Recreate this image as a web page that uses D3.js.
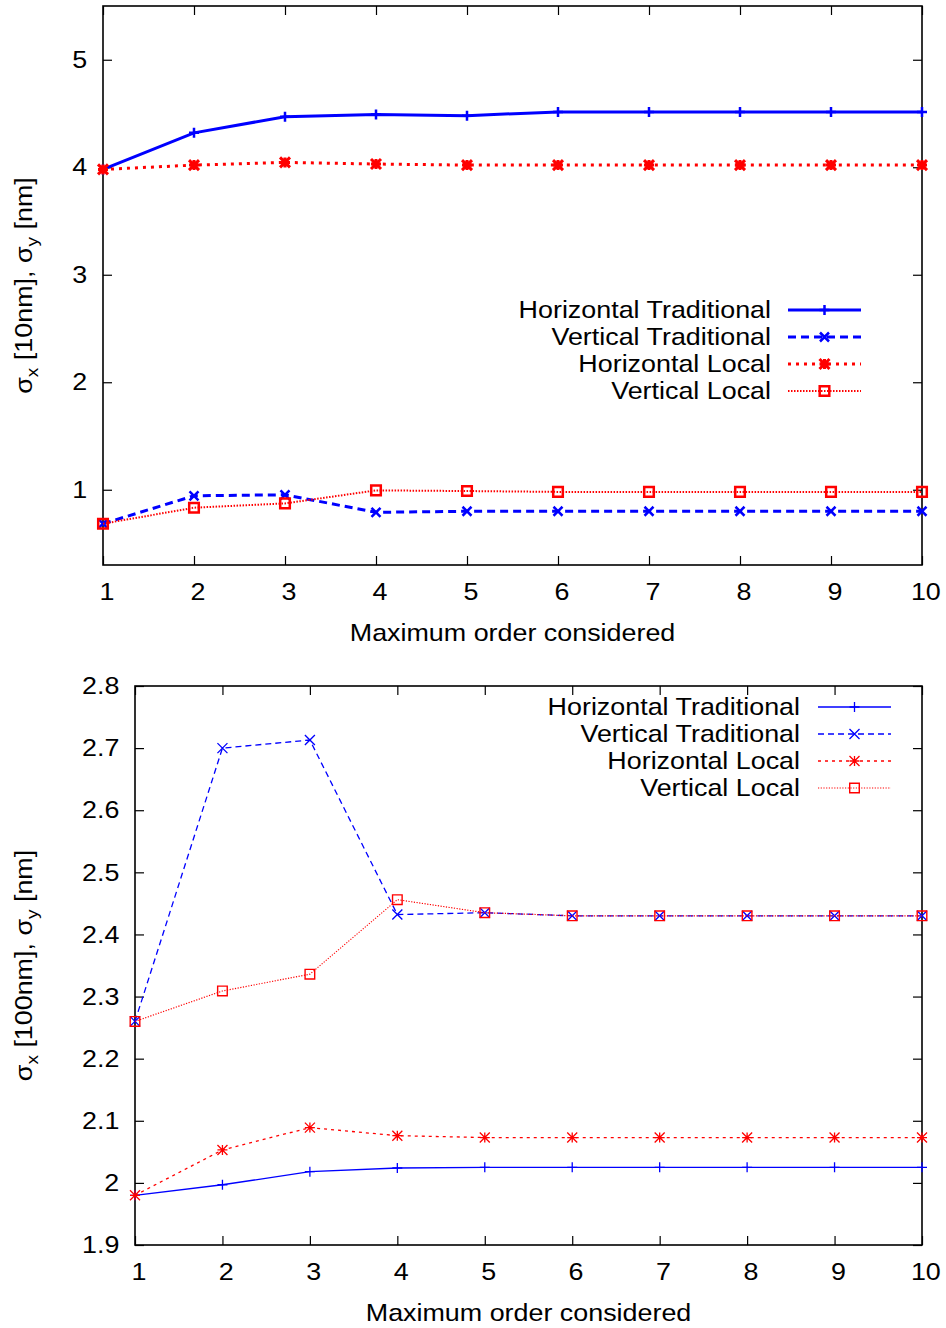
<!DOCTYPE html>
<html>
<head>
<meta charset="utf-8">
<script src="https://cdn.jsdelivr.net/npm/d3@7"></script>
<style>
  body { margin: 0; background: #fff; }
  svg text { font-family: "Liberation Sans", Arial, sans-serif; fill: #000; }
</style>
</head>
<body>
<svg width="946" height="1328"></svg>
<script>
const orders = [1, 2, 3, 4, 5, 6, 7, 8, 9, 10];
const seriesNames = ["Horizontal Traditional", "Vertical Traditional", "Horizontal Local", "Vertical Local"];

// top panel: sigma_x in 10nm, sigma_y in nm
const topHorTrad = [3.98, 4.32, 4.47, 4.49, 4.48, 4.515, 4.515, 4.515, 4.515, 4.515];
const topVerTrad = [0.684, 0.944, 0.953, 0.79, 0.80, 0.80, 0.80, 0.80, 0.80, 0.80];
const topHorLoc  = [3.98, 4.02, 4.045, 4.03, 4.02, 4.02, 4.02, 4.02, 4.02, 4.02];
const topVerLoc  = [0.684, 0.833, 0.873, 0.994, 0.988, 0.98, 0.98, 0.98, 0.98, 0.98];
const topYTicks  = [1, 2, 3, 4, 5];

// bottom panel: sigma_x in 100nm, sigma_y in nm
const botHorTrad = [1.98, 1.997, 2.018, 2.024, 2.025, 2.025, 2.025, 2.025, 2.025, 2.025];
const botVerTrad = [2.26, 2.70, 2.713, 2.432, 2.435, 2.43, 2.43, 2.43, 2.43, 2.43];
const botHorLoc  = [1.98, 2.053, 2.089, 2.076, 2.073, 2.073, 2.073, 2.073, 2.073, 2.073];
const botVerLoc  = [2.26, 2.309, 2.336, 2.456, 2.435, 2.43, 2.43, 2.43, 2.43, 2.43];
const botYTicks  = [1.9, 2, 2.1, 2.2, 2.3, 2.4, 2.5, 2.6, 2.7, 2.8];

const svg = d3.select("svg");
const STRETCH = "scale(1.12,1)";
const FONT = 24;

// gnuplot-ish point shapes
function markerPath(type, s) {
  if (type === "plus") return `M${-s},0H${s}M0,${-s}V${s}`;
  if (type === "cross") return `M${-s},${-s}L${s},${s}M${-s},${s}L${s},${-s}`;
  if (type === "star") return `M${-s},0H${s}M0,${-s}V${s}M${-s},${-s}L${s},${s}M${-s},${s}L${s},${-s}`;
  return `M${-s},${-s}H${s}V${s}H${-s}Z`;
}

function drawPanel(opt) {
  const x = d3.scaleLinear().domain([1, 10]).range([opt.left, opt.right]);
  const y = d3.scaleLinear().domain(opt.yDomain).range([opt.bottom, opt.top]);
  const g = svg.append("g");

  // axes with inward ticks on all four sides
  const bottomAxis = g.append("g")
    .attr("transform", `translate(0,${opt.bottom})`)
    .call(d3.axisBottom(x).tickValues(orders).tickSizeInner(-9).tickSizeOuter(0).tickPadding(18));
  g.append("g")
    .attr("transform", `translate(${opt.left},0)`)
    .call(d3.axisLeft(y).tickValues(opt.yTicks).tickSizeInner(-9).tickSizeOuter(0).tickPadding(14)
      .tickFormat(opt.fmt));
  g.append("g")
    .attr("transform", `translate(0,${opt.top})`)
    .call(d3.axisTop(x).tickValues(orders).tickSizeInner(-9).tickSizeOuter(0).tickFormat(""));
  g.append("g")
    .attr("transform", `translate(${opt.right},0)`)
    .call(d3.axisRight(y).tickValues(opt.yTicks).tickSizeInner(-9).tickSizeOuter(0).tickFormat(""));

  g.selectAll(".domain").remove();
  g.selectAll(".tick line").attr("stroke", "#000").attr("stroke-width", 1.2);
  g.selectAll(".tick text").attr("font-size", FONT).attr("font-family", null).attr("transform", STRETCH);
  bottomAxis.selectAll(".tick text").attr("dy", "0.72em").attr("x", 3);

  g.append("rect")
    .attr("x", opt.left).attr("y", opt.top)
    .attr("width", opt.right - opt.left).attr("height", opt.bottom - opt.top)
    .attr("fill", "none").attr("stroke", "#000").attr("stroke-width", 1.6);

  // axis titles
  g.append("text")
    .attr("transform", `translate(${(opt.left + opt.right) / 2},${opt.xLabelY}) ${STRETCH}`)
    .attr("text-anchor", "middle").attr("font-size", FONT)
    .text("Maximum order considered");

  const yl = g.append("text")
    .attr("transform", `translate(32,${(opt.top + opt.bottom) / 2}) rotate(-90) ${STRETCH}`)
    .attr("text-anchor", "middle").attr("font-size", FONT);
  yl.append("tspan").text("σ");
  yl.append("tspan").attr("font-size", 17).attr("dy", 6).text("x");
  yl.append("tspan").attr("dy", -6).text(` [${opt.unit}], σ`);
  yl.append("tspan").attr("font-size", 17).attr("dy", 6).text("y");
  yl.append("tspan").attr("dy", -6).text(" [nm]");

  const line = d3.line().x((d, i) => x(orders[i])).y(d => y(d));

  opt.series.forEach((s, k) => {
    g.append("path")
      .datum(s.values)
      .attr("d", line)
      .attr("fill", "none")
      .attr("stroke", s.color)
      .attr("stroke-width", s.width)
      .attr("stroke-dasharray", s.dash);

    g.append("g").selectAll("path")
      .data(s.values)
      .join("path")
      .attr("transform", (d, i) => `translate(${x(orders[i])},${y(d)})`)
      .attr("d", markerPath(s.marker, s.size))
      .attr("fill", "none")
      .attr("stroke", s.color)
      .attr("stroke-width", s.mwidth);

    // legend entry
    const ly = opt.legendY + k * opt.legendStep;
    g.append("text")
      .attr("transform", `translate(${opt.legendTextX},${ly}) ${STRETCH}`)
      .attr("text-anchor", "end").attr("dy", "0.35em").attr("font-size", FONT)
      .text(seriesNames[k]);
    g.append("line")
      .attr("x1", opt.legendLine[0]).attr("x2", opt.legendLine[1])
      .attr("y1", ly).attr("y2", ly)
      .attr("stroke", s.color).attr("stroke-width", s.width).attr("stroke-dasharray", s.dash);
    g.append("path")
      .attr("transform", `translate(${(opt.legendLine[0] + opt.legendLine[1]) / 2},${ly})`)
      .attr("d", markerPath(s.marker, s.size))
      .attr("fill", "none").attr("stroke", s.color).attr("stroke-width", s.mwidth);
  });
}

drawPanel({
  left: 103, right: 922, top: 6, bottom: 565,
  yDomain: [0.3, 5.5], yTicks: topYTicks, fmt: d3.format("d"),
  xLabelY: 641, unit: "10nm",
  legendY: 310, legendStep: 27, legendTextX: 771, legendLine: [788, 861],
  series: [
    { values: topHorTrad, color: "#0000ff", width: 3, dash: null, marker: "plus", size: 5, mwidth: 2.5 },
    { values: topVerTrad, color: "#0000ff", width: 3, dash: "8,5", marker: "cross", size: 4.5, mwidth: 2.5 },
    { values: topHorLoc, color: "#ff0000", width: 3, dash: "3,5", marker: "star", size: 5, mwidth: 3 },
    { values: topVerLoc, color: "#ff0000", width: 2, dash: "1.5,1.5", marker: "square", size: 4.8, mwidth: 2.5 }
  ]
});

drawPanel({
  left: 135, right: 922, top: 686, bottom: 1245,
  yDomain: [1.9, 2.8], yTicks: botYTicks, fmt: d => (d === 2 ? "2" : d3.format(".1f")(d)),
  xLabelY: 1321, unit: "100nm",
  legendY: 707, legendStep: 27, legendTextX: 800, legendLine: [818, 891],
  series: [
    { values: botHorTrad, color: "#0000ff", width: 1.3, dash: null, marker: "plus", size: 5, mwidth: 1.3 },
    { values: botVerTrad, color: "#0000ff", width: 1.3, dash: "6,4", marker: "cross", size: 5, mwidth: 1.3 },
    { values: botHorLoc, color: "#ff0000", width: 1.3, dash: "3,4", marker: "star", size: 5, mwidth: 1.3 },
    { values: botVerLoc, color: "#ff0000", width: 1.2, dash: "1.2,1.5", marker: "square", size: 4.8, mwidth: 1.4 }
  ]
});
</script>
</body>
</html>
